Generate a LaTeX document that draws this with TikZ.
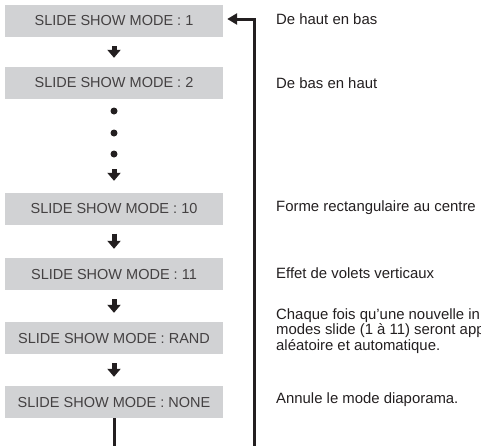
\documentclass[tikz,border=0pt]{standalone}
\usepackage{fontspec}
\setmainfont{Liberation Sans}
\usetikzlibrary{arrows.meta}
\definecolor{boxgray}{HTML}{D1D2D4}
\definecolor{ink}{HTML}{231F20}
\begin{document}
\begin{tikzpicture}[x=1pt,y=-1pt,
 modebox/.style={fill=boxgray, minimum width=218pt, minimum height=32pt, inner sep=0pt, font=\fontsize{14.5}{16}\selectfont, text=ink!85},
 desc/.style={anchor=west, inner sep=0pt, font=\fontsize{14.9}{15.4}\selectfont, text=ink, align=left},
 dotnode/.style={circle, fill=ink, minimum size=7pt, inner sep=0pt},
 downarr/.style={draw=ink, line width=5pt, -{Triangle[width=13pt,length=8pt]}, shorten <=9pt, shorten >=9pt},
 loopline/.style={draw=ink, line width=3pt, -{Triangle[width=11pt,length=10pt]}, shorten >=4pt}]
\useasboundingbox (0,0) rectangle (481,445);
\clip (0,0) rectangle (481,445);
\node[modebox] (b1) at (114,21) {SLIDE SHOW MODE : 1};
\node[modebox] (b2) at (114,83) {SLIDE SHOW MODE : 2};
\node[dotnode] (d1) at (114,111) {};
\node[dotnode] (d2) at (114,133) {};
\node[dotnode] (d3) at (114,154) {};
\node[modebox] (b10) at (114,208.5) {SLIDE SHOW MODE : 10};
\node[modebox] (b11) at (114,274) {SLIDE SHOW MODE : 11};
\node[modebox] (bR) at (114,338) {SLIDE SHOW MODE : RAND};
\node[modebox] (bN) at (114,402) {SLIDE SHOW MODE : NONE};
\draw[downarr] (b1) -- (b2);
\draw[downarr, shorten <=11.5pt, shorten >=11.5pt] (d3) -- (b10);
\draw[downarr] (b10) -- (b11);
\draw[downarr] (b11) -- (bR);
\draw[downarr] (bR) -- (bN);
\coordinate (turn) at (254.5,19);
\draw[loopline] (bN.south) -- ++(0,40) -| (turn) -- (turn -| b1.east);
\node[desc] (t1) at (276,19) {De haut en bas};
\node[desc] (t2) at (276,83) {De bas en haut};
\node[desc] (t10) at (276,208) {Forme rectangulaire au centre};
\node[desc] (t11) at (276,273) {Effet de volets verticaux};
\node[desc] (tR) at (276,331) {Chaque fois qu’une nouvelle in\\modes slide (1 à 11) seront app\\aléatoire et automatique.};
\node[desc] (tN) at (276,400) {Annule le mode diaporama.};
\end{tikzpicture}
\end{document}
